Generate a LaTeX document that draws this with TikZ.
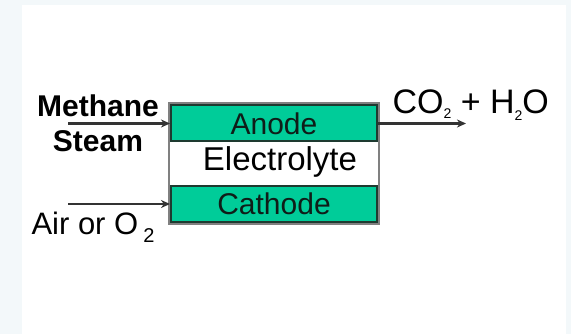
\documentclass[tikz,border=0pt]{standalone}
\usepackage{fontspec}
\setmainfont{Liberation Sans}
\usetikzlibrary{positioning,arrows.meta}
\definecolor{cellgreen}{RGB}{0,204,153}
\definecolor{celledge}{RGB}{30,58,48}
\definecolor{pagetint}{RGB}{243,248,250}
\newcommand{\lowtwo}[2]{\raisebox{#1}{\fontsize{#2}{#2}\selectfont 2}}

\begin{document}
\begin{tikzpicture}[x=1pt, y=-1pt,
  cell/.style={rectangle, fill=cellgreen, draw=celledge, line width=2pt, minimum width=206pt, minimum height=36pt, inner sep=0pt, text=celledge!50!black, font={\fontsize{30}{30}\selectfont}},
  flow/.style={draw=black!80, line width=2.5pt, -{Stealth[length=9pt,width=8pt]}},
  label/.style={font={\fontsize{31}{31}\selectfont}}]
\useasboundingbox (0,0) rectangle (571,334);
\fill[pagetint] (0,0) rectangle (571,334);
\fill[white] (22,5) rectangle (566,334);
% the three layers
\draw[black!50, line width=2.5pt, fill=white] (169,103) rectangle (379,224);
\node[cell] (anode) at (274,123.5) {Anode};
\node[cell] (cathode) at (274,204) {Cathode};
\node[label, font={\fontsize{33}{33}\selectfont}] (electrolyte) at (280,162) {Electrolyte};
% inputs and output
\node[label, align=center, font={\bfseries\fontsize{30}{35}\selectfont}] (fuel) at (98,123) {Methane\\Steam};
\node[label, anchor=west] (air) at (28,227) {Air or O\,\lowtwo{-8pt}{20}};
\node[label, anchor=west, font={\fontsize{34}{34}\selectfont}] (exhaust) at (389,105) {CO\lowtwo{-5pt}{14}\ + H\lowtwo{-7pt}{14}O};
\coordinate (fuelstart) at (68,123.5);
\coordinate (airstart) at (68,204);
\coordinate (exhaustend) at (466,123.5);
\draw[flow] (fuelstart) -- (anode.west);
\draw[flow] (airstart) -- (cathode.west);
\draw[flow] (anode.east) -- (exhaustend);
\end{tikzpicture}
\end{document}
